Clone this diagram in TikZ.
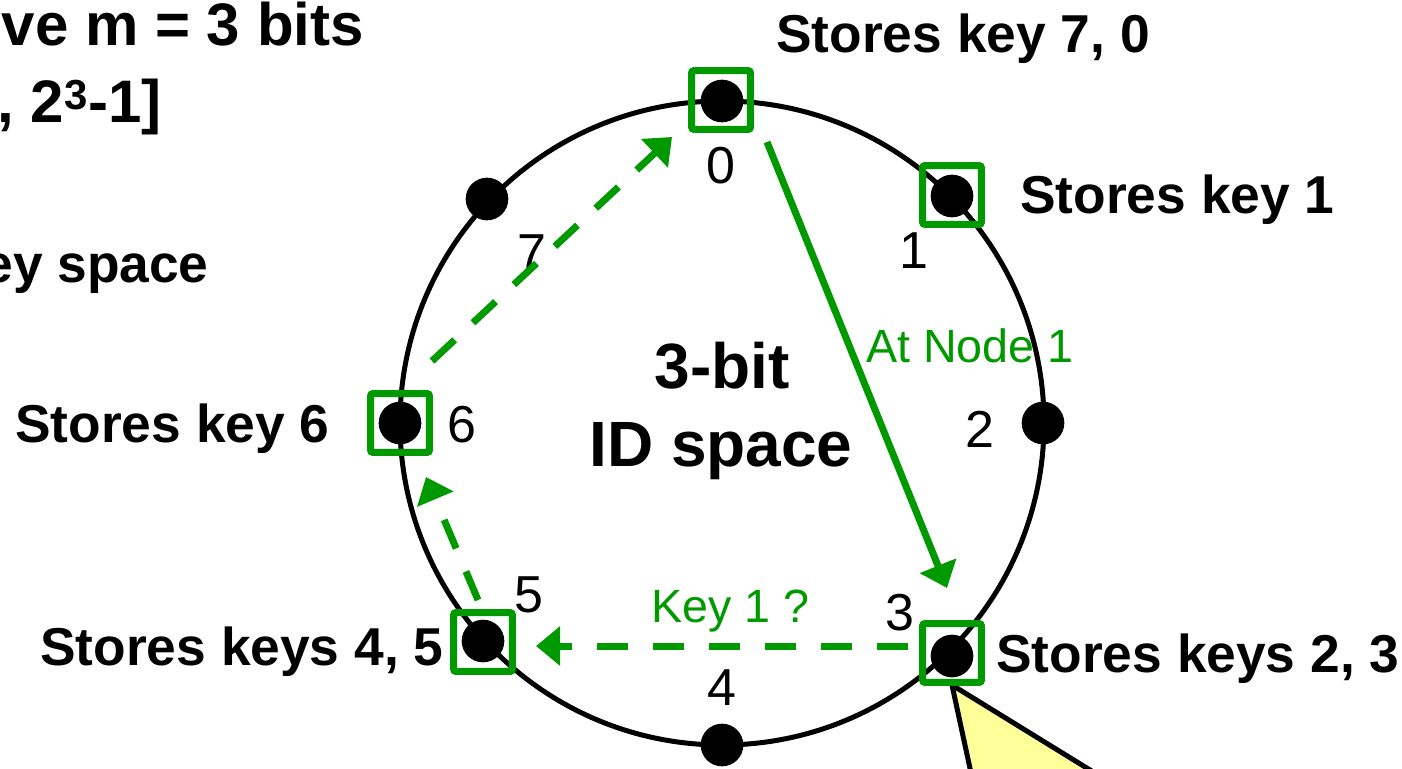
\documentclass[tikz,border=0pt]{standalone}
\usepackage{fontspec}
\setmainfont{Liberation Sans}
\usetikzlibrary{arrows.meta}
\definecolor{grn}{HTML}{009900}
\definecolor{yel}{HTML}{FFFF99}
\begin{document}
\begin{tikzpicture}[x=0.75pt,y=-0.75pt,
  dot/.style={circle,fill=black,inner sep=0pt,minimum size=32pt},
  sq/.style={draw=grn,line width=5.25pt,rounded corners=1.5pt,inner sep=0pt,minimum size=44pt},
  lbl/.style={inner sep=0pt,font=\fontsize{40pt}{48pt}\selectfont\bfseries},
  num/.style={inner sep=0pt,anchor=base,font=\fontsize{39pt}{47pt}\selectfont},
  gtxt/.style={inner sep=0pt,text=grn,font=\fontsize{35pt}{42pt}\selectfont},
  big/.style={inner sep=0pt,anchor=base,font=\fontsize{48pt}{57pt}\selectfont\bfseries},
  top/.style={inner sep=0pt,anchor=base east,font=\fontsize{45pt}{54pt}\selectfont\bfseries},
  garrow/.style={grn,line width=5.25pt,-{Triangle[length=18pt,width=28.5pt]}},
  gdash/.style={garrow,dash pattern=on 23.25pt off 18.75pt}]
\useasboundingbox (0,0) rectangle (1402,768);
\clip (0,0) rectangle (1402,768);
\fill[white] (0,0) rectangle (1402,768);

% ring
\draw[line width=3.75pt] (722,423) circle [radius=322];

% callout
\draw[fill=yel,line width=3.75pt,line join=miter] (952,685) -- (979,810) -- (1155,810) -- cycle;

% dots
\node[dot] (n0) at (722,101) {};
\node[dot] (n1) at (952,196) {};
\node[dot] (n2) at (1043,423) {};
\node[dot] (n3) at (952,656) {};
\node[dot] (n4) at (722,745) {};
\node[dot] (n5) at (483,641) {};
\node[dot] (n6) at (400,423) {};
\node[dot] (n7) at (487,199) {};

% squares
\node[sq] (s0) at (721,100) {};
\node[sq] (s1) at (952,195) {};
\node[sq] (s3) at (952,653) {};
\node[sq] (s5) at (483,642) {};
\node[sq] (s6) at (400,423) {};

% numbers
\node[num] (l0) at (721,183) {0};
\node[num] (l1) at (914,268) {1};
\node[num] (l2) at (980,447) {2};
\node[num] (l3) at (900,630) {3};
\node[num] (l4) at (722,705) {4};
\node[num] (l5) at (529,612) {5};
\node[num] (l6) at (462,442) {6};
\node[num] (l7) at (532,270) {7};

% arrow end points
\coordinate (a1s) at (767,142);
\coordinate (a1e) at (947,588);
\coordinate (a2s) at (908,646);
\coordinate (a2e) at (536,646);
\coordinate (a3s) at (478,600);
\coordinate (a3e) at (426,477);
\coordinate (a4s) at (432,361);
\coordinate (a4e) at (672,137);

\draw[garrow] (a1s) -- (a1e);
\draw[gdash] (a2s) -- (a2e);
\draw[gdash] (a3s) -- (a3e);
\draw[gdash] (a4s) -- (a4e);

% green labels
\node[gtxt,anchor=base west] (t1) at (866,362) {At Node 1};
\node[gtxt,anchor=base west] (t2) at (651,622) {Key 1 ?};

% center text
\node[big] (c1) at (722,388) {3-bit};
\node[big] (c2) at (721,466) {ID space};

% store labels
\node[lbl,anchor=base west] (k0) at (776,52) {Stores key 7, 0};
\node[lbl,anchor=base west] (k1) at (1020,213) {Stores key 1};
\node[lbl,anchor=base west] (k6) at (15,442) {Stores key 6};
\node[lbl,anchor=base west] (k5) at (40,665) {Stores keys 4, 5};
\node[lbl,anchor=base west] (k3) at (996,672) {Stores keys 2, 3};

% top-left text (cut off)
\node[top] (h1) at (364,45) {ve m = 3 bits};
\node[top] (h2) at (162,122) {, 2\textsuperscript{3}-1]};
\node[top,font=\fontsize{40pt}{48pt}\selectfont\bfseries] (h3) at (209,282) {ey space};
\end{tikzpicture}
\end{document}
